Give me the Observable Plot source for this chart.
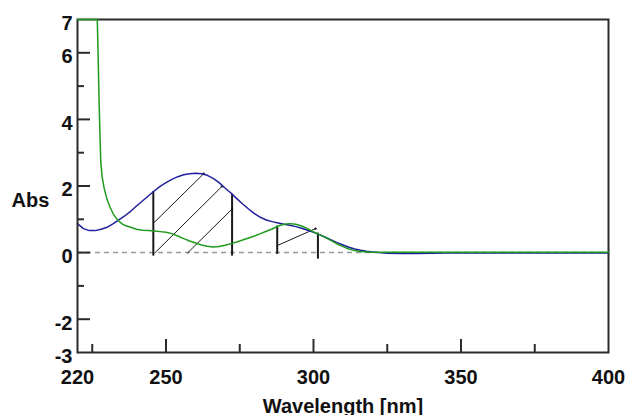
<!DOCTYPE html>
<html><head><meta charset="utf-8">
<script src="https://cdn.jsdelivr.net/npm/d3@7"></script>
<script src="https://cdn.jsdelivr.net/npm/@observablehq/plot@0.6"></script>
<style>body{margin:0;background:#fff}</style>
</head><body><div id="chart"></div>
<script>
// Blue spectrum
const blueWl  = [220,222,224,226,228,230,232,234,236,238,240,242,244,246,248,250,252,254,256,258,260,262,264,266,268,270,272,274,276,278,280,282,284,286,288,290,292,294,296,298,300,302,304,306,308,310,312,314,316,318,320,322,325,330,335,340,345,350,400];
const blueAbs = [0.87,0.72,0.66,0.66,0.70,0.76,0.86,0.98,1.10,1.24,1.40,1.55,1.70,1.85,1.99,2.10,2.20,2.28,2.34,2.37,2.38,2.37,2.32,2.23,2.10,1.94,1.79,1.62,1.46,1.31,1.17,1.06,0.98,0.93,0.89,0.85,0.82,0.78,0.73,0.67,0.61,0.54,0.46,0.38,0.30,0.23,0.16,0.11,0.07,0.04,0.02,0.00,-0.02,-0.03,-0.03,-0.02,-0.01,-0.01,-0.01];
// Green spectrum
const greenWl  = [220,224,226.7,227,227.3,227.6,227.9,228.4,229,230,231,232,233,234,235,236,238,240,242,244,246,248,250,252,254,256,258,260,262,264,266,268,270,272,274,276,278,280,282,284,286,288,290,292,294,296,298,300,302,304,306,308,310,312,314,316,318,320,325,400];
const greenAbs = [7,7,7,5.9,4.6,3.6,2.7,2.25,1.95,1.6,1.37,1.18,1.05,0.95,0.87,0.82,0.76,0.70,0.67,0.66,0.65,0.63,0.61,0.57,0.50,0.42,0.35,0.29,0.23,0.19,0.17,0.18,0.22,0.27,0.32,0.38,0.44,0.50,0.57,0.64,0.71,0.80,0.85,0.87,0.85,0.80,0.72,0.62,0.54,0.46,0.36,0.26,0.18,0.11,0.06,0.03,0.02,0.01,0.01,0.01];
// Integration region boundaries (wavelength, low, high)
const boundWl   = [245.7, 272.4, 287.7, 301.5];
const boundLow  = [-0.09, -0.09, -0.04, -0.18];
const boundHigh = [1.85, 1.77, 0.81, 0.60];
// Hatch segments
const hatchX1 = [245.7, 246.1, 257.2, 287.7];
const hatchY1 = [0.88, -0.02, -0.02, 0.21];
const hatchX2 = [262.8, 269.0, 272.4, 300.7];
const hatchY2 = [2.37, 1.99, 1.31, 0.72];
// Axis ticks
const yLabelTicks = [7,6,4,2,0,-2,-3];
const yMajorTicks = [6,4,2,0,-2];
const yMinorTicks = [5,3,1,-1];
const xLabelTicks = [220,250,300,350,400];
const xMajorTicks = [250,300,350];
const xMinorTicks = [225,275,325,375];

const blue = blueWl.map((x,i)=>({x, y: blueAbs[i]}));
const green = greenWl.map((x,i)=>({x, y: greenAbs[i]}));
const bounds = boundWl.map((x,i)=>({x, y1: boundLow[i], y2: boundHigh[i]}));
const hatch = hatchX1.map((x1,i)=>({x1, y1: hatchY1[i], x2: hatchX2[i], y2: hatchY2[i]}));

const fmt = d => String(d);
const chart = Plot.plot({
  width: 627, height: 415,
  marginLeft: 77, marginRight: 19, marginTop: 19, marginBottom: 63,
  x: {domain: [220, 400], axis: null},
  y: {domain: [-3, 7], axis: null},
  style: {fontFamily: "'Liberation Sans', Arial, sans-serif", fontSize: "20px", fontWeight: "bold", background: "#fff", color: "#111"},
  marks: [
    Plot.ruleY([0], {stroke: "#999", strokeWidth: 1.5, strokeDasharray: "5,4"}),
    Plot.link(bounds, {x1: "x", x2: "x", y1: "y1", y2: "y2", stroke: "#1a1a1a", strokeWidth: 2}),
    Plot.link(hatch, {x1: "x1", y1: "y1", x2: "x2", y2: "y2", stroke: "#1a1a1a", strokeWidth: 1}),
    Plot.dot(hatch, {x: "x2", y: "y2", r: 1.2, fill: "#1a1a1a"}),
    Plot.line(blue, {x: "x", y: "y", stroke: "#1f1f9c", strokeWidth: 1.5}),
    Plot.frame({stroke: "#2b2b2b", strokeWidth: 2}),
    Plot.line(green, {x: "x", y: "y", stroke: "#1f9a1f", strokeWidth: 1.5}),
    Plot.axisY({ticks: yMajorTicks, tickSize: -13, fill: "none", stroke: "#2b2b2b", strokeWidth: 2, label: null}),
    Plot.axisY({ticks: yMinorTicks, tickSize: -7, fill: "none", stroke: "#2b2b2b", strokeWidth: 2, label: null}),
    Plot.axisY({ticks: yLabelTicks, tickSize: 0, tickPadding: 5, dy: 4, tickFormat: fmt, label: null, fill: "#111"}),
    Plot.axisX({ticks: xMajorTicks, tickSize: -13, fill: "none", stroke: "#2b2b2b", strokeWidth: 2, label: null}),
    Plot.axisX({ticks: xMinorTicks, tickSize: -8, fill: "none", stroke: "#2b2b2b", strokeWidth: 2, label: null}),
    Plot.axisX({ticks: xLabelTicks, tickSize: 0, tickPadding: 17, tickFormat: fmt, label: null, fill: "#111"}),
    Plot.text(["Abs"], {frameAnchor: "left", dx: -47, dy: 15, textAnchor: "middle", fill: "#111"}),
    Plot.text(["Wavelength [nm]"], {frameAnchor: "bottom", lineAnchor: "bottom", dy: 60, textAnchor: "middle", fill: "#111"})
  ]
});
document.getElementById("chart").appendChild(chart);
</script>
</body></html>
